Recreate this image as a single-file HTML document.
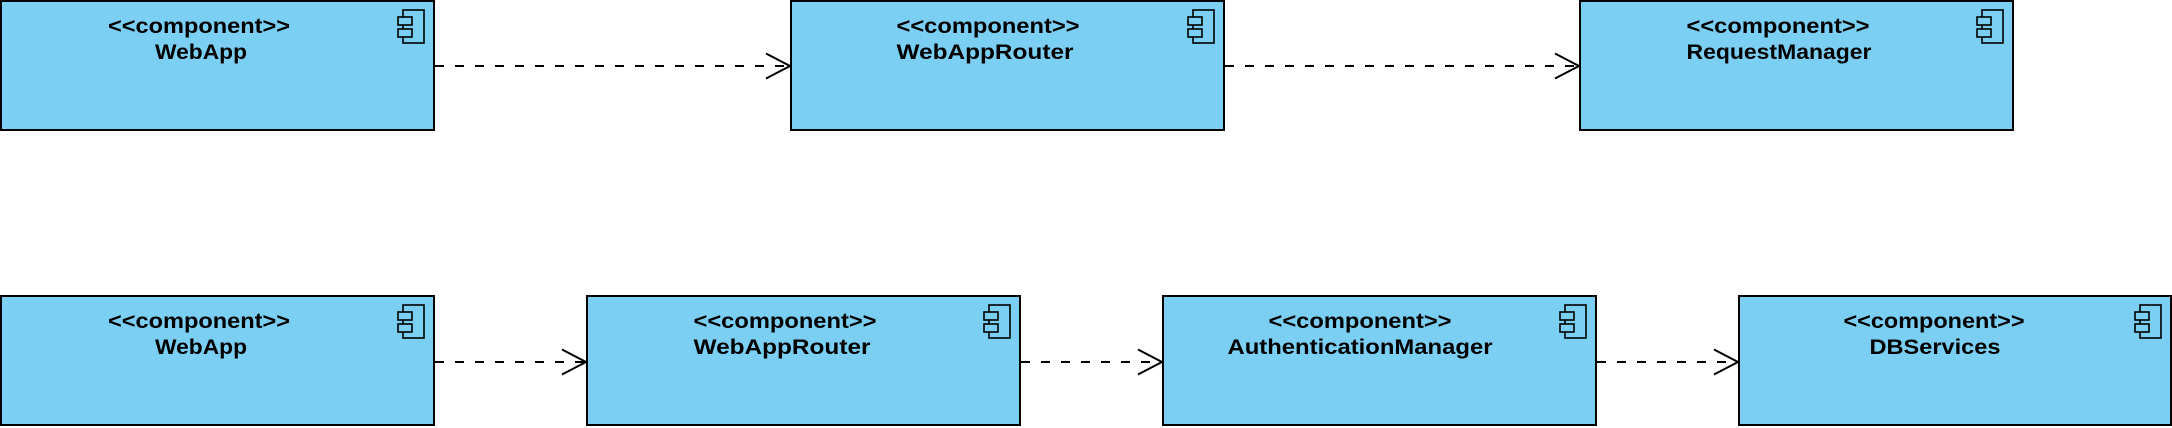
<!DOCTYPE html>
<html><head><meta charset="utf-8"><style>
html,body{margin:0;padding:0;background:#fff;}
svg{display:block;}
text{font-family:"Liberation Sans",Arial,sans-serif;font-weight:bold;font-size:21px;fill:#000;}
</style></head><body>
<svg width="2172" height="428" viewBox="0 0 2172 428" xmlns="http://www.w3.org/2000/svg">
<defs>
<g id="icon" fill="none" stroke="#000" stroke-width="1.6">
<rect x="0" y="0" width="21" height="33"/>
<rect x="-5" y="7" width="14" height="8" fill="#7acff3"/>
<rect x="-5" y="19" width="14" height="8" fill="#7acff3"/>
</g>
</defs>
<g stroke="#000" stroke-width="2" fill="#7acff3">
<rect x="1" y="1" width="433" height="129"/>
<rect x="791" y="1" width="433" height="129"/>
<rect x="1580" y="1" width="433" height="129"/>
<rect x="1" y="296" width="433" height="129"/>
<rect x="587" y="296" width="433" height="129"/>
<rect x="1163" y="296" width="433" height="129"/>
<rect x="1739" y="296" width="432" height="129"/>
</g>
<use href="#icon" x="403" y="10"/>
<use href="#icon" x="1193" y="10"/>
<use href="#icon" x="1982" y="10"/>
<use href="#icon" x="403" y="305"/>
<use href="#icon" x="989" y="305"/>
<use href="#icon" x="1565" y="305"/>
<use href="#icon" x="2140" y="305"/>
<g text-anchor="middle">
<text x="199" y="33" textLength="182" lengthAdjust="spacingAndGlyphs">&lt;&lt;component&gt;&gt;</text>
<text x="201" y="59" textLength="92" lengthAdjust="spacingAndGlyphs">WebApp</text>
<text x="988" y="33" textLength="183" lengthAdjust="spacingAndGlyphs">&lt;&lt;component&gt;&gt;</text>
<text x="985" y="59" textLength="177" lengthAdjust="spacingAndGlyphs">WebAppRouter</text>
<text x="1778" y="33" textLength="183" lengthAdjust="spacingAndGlyphs">&lt;&lt;component&gt;&gt;</text>
<text x="1779" y="59" textLength="185" lengthAdjust="spacingAndGlyphs">RequestManager</text>
<text x="199" y="328" textLength="182" lengthAdjust="spacingAndGlyphs">&lt;&lt;component&gt;&gt;</text>
<text x="201" y="354" textLength="92" lengthAdjust="spacingAndGlyphs">WebApp</text>
<text x="785" y="328" textLength="183" lengthAdjust="spacingAndGlyphs">&lt;&lt;component&gt;&gt;</text>
<text x="782" y="354" textLength="177" lengthAdjust="spacingAndGlyphs">WebAppRouter</text>
<text x="1360" y="328" textLength="183" lengthAdjust="spacingAndGlyphs">&lt;&lt;component&gt;&gt;</text>
<text x="1360" y="354" textLength="265" lengthAdjust="spacingAndGlyphs">AuthenticationManager</text>
<text x="1934" y="328" textLength="181" lengthAdjust="spacingAndGlyphs">&lt;&lt;component&gt;&gt;</text>
<text x="1935" y="354" textLength="131" lengthAdjust="spacingAndGlyphs">DBServices</text>
</g>
<g stroke="#000" stroke-width="2" fill="none">
<g stroke-dasharray="9 11">
<line x1="435" y1="66" x2="789" y2="66"/>
<line x1="1225" y1="66" x2="1578" y2="66"/>
<line x1="435" y1="362" x2="585" y2="362"/>
<line x1="1021" y1="362" x2="1161" y2="362"/>
<line x1="1597" y1="362" x2="1737" y2="362"/>
</g>
<polyline points="766,53.5 790,66 766,78.5"/>
<polyline points="1555,53.5 1579,66 1555,78.5"/>
<polyline points="562,349.5 586,362 562,374.5"/>
<polyline points="1138,349.5 1162,362 1138,374.5"/>
<polyline points="1714,349.5 1738,362 1714,374.5"/>
</g>
</svg>
</body></html>
